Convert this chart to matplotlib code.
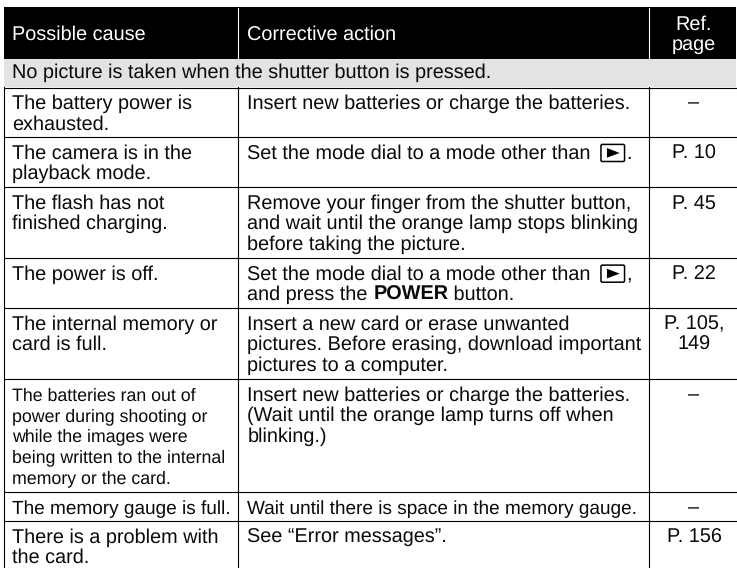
import re
import matplotlib
matplotlib.use("Agg")
import matplotlib.pyplot as plt
from matplotlib.patches import Rectangle, Polygon, FancyBboxPatch

W, H = 737, 568
plt.rcParams['font.family'] = ['Liberation Sans', 'DejaVu Sans']
plt.rcParams['text.hinting'] = 'no_hinting'

headers = ["Possible cause", "Corrective action", "Ref.\npage"]
section = "No picture is taken when the shutter button is pressed."
causes = [
    "The battery power is\nexhausted.",
    "The camera is in the\nplayback mode.",
    "The flash has not\nfinished charging.",
    "The power is off.",
    "The internal memory or\ncard is full.",
    "The batteries ran out of\npower during shooting or\nwhile the images were\nbeing written to the internal\nmemory or the card.",
    "The memory gauge is full.",
    "There is a problem with\nthe card.",
]
actions = [
    "Insert new batteries or charge the batteries.",
    "Set the mode dial to a mode other than [>].",
    "Remove your finger from the shutter button,\nand wait until the orange lamp stops blinking\nbefore taking the picture.",
    "Set the mode dial to a mode other than [>],\nand press the **POWER** button.",
    "Insert a new card or erase unwanted\npictures. Before erasing, download important\npictures to a computer.",
    "Insert new batteries or charge the batteries.\n(Wait until the orange lamp turns off when\nblinking.)",
    "Wait until there is space in the memory gauge.",
    "See \u201cError messages\u201d.",
]
refs = ["\u2013", "P. 10", "P. 45", "P. 22", "P. 105,\n149", "\u2013", "\u2013", "P. 156"]

# layout (pixels)
x0, x1, x2, x3 = 4.5, 238.5, 649.5, 737
top, head_b, sec_b = 7.3, 59.3, 87.3
row_edges = [87.5, 137.3, 187.3, 258, 308, 379, 492.3, 521, 568]
OFFSET = 21.4
FS, FS_SMALL, FS_TIGHT = 14.3, 12.8, 13.7
PITCH, PITCH_SMALL = 20.5, 20.65
ICON_W, ICON_H = 25, 18.5
INK = "#0a0a0a"

fig = plt.figure(figsize=(W / 100, H / 100), dpi=100)
ax = fig.add_axes([0, 0, 1, 1])
ax.set_xlim(0, W)
ax.set_ylim(H, 0)
ax.axis("off")
rend = fig.canvas.get_renderer()

ax.add_patch(Rectangle((x0 - 0.5, top), x3 - x0, head_b - top, fc="black", ec="none"))
ax.add_patch(Rectangle((x0 - 0.5, head_b), x3 - x0, sec_b - head_b, fc="#e3e3e3", ec="none"))
ax.plot([x1, x1], [top + 1, head_b - 1.5], color="white", lw=0.8)
ax.plot([x2, x2], [top + 1, head_b - 1.5], color="white", lw=0.8)


def play_icon(px, base):
    py = base - 15
    ax.add_patch(FancyBboxPatch((px + 0.7, py + 0.7), ICON_W - 1.4, ICON_H - 1.4,
                                boxstyle="round,pad=0,rounding_size=1.5",
                                fc="white", ec="black", lw=1.1))
    ax.add_patch(Polygon([[px + 6.7, py + 4.3], [px + 6.7, py + ICON_H - 4.5],
                          [px + 19.4, py + ICON_H / 2]], fc="black", ec="none"))
    return ICON_W


def draw_line(x, base, line, fs=FS):
    for seg in re.split(r"(\*\*.*?\*\*|\[>\])", line):
        if not seg:
            continue
        if seg == "[>]":
            x += play_icon(x + 4, base) + 5
            continue
        bold = seg.startswith("**")
        s = seg.strip("*") if bold else seg
        t = ax.text(x, base, s, fontsize=fs, va="baseline", ha="left",
                    fontweight="bold" if bold else "normal", color=INK)
        w, _, _ = rend.get_text_width_height_descent(s, t.get_fontproperties(), False)
        x += w


ax.text(12.5, 39.3, headers[0], color="white", fontsize=FS)
ax.text(x1 + 8.8, 39.3, headers[1], color="white", fontsize=FS)
for yy, s in zip((29.3, 50), headers[2].split("\n")):
    ax.text(694, yy, s, color="white", fontsize=FS, ha="center")
ax.text(12, 78.3, section, color=INK, fontsize=FS)

for e in row_edges[:-1]:
    ax.plot([x0, x3], [e, e], color="black", lw=0.8)
for x in (x0, x1, x2):
    ax.plot([x, x], [sec_b, H], color="black", lw=0.8)

small_row, tight_row = 5, 6
for i, (c, a, r) in enumerate(zip(causes, actions, refs)):
    base = row_edges[i] + OFFSET
    small = i == small_row
    fs = FS_TIGHT if i == tight_row else FS
    for k, s in enumerate(c.split("\n")):
        draw_line(12.5, base + k * (PITCH_SMALL if small else PITCH), s,
                  FS_SMALL if small else fs)
    for k, s in enumerate(a.split("\n")):
        draw_line(x1 + 8.8, base + k * PITCH, s, fs)
    for k, s in enumerate(r.split("\n")):
        ax.text(694, base + k * PITCH, s, fontsize=FS, ha="center", color=INK)

fig.savefig("out.png", dpi=100)
